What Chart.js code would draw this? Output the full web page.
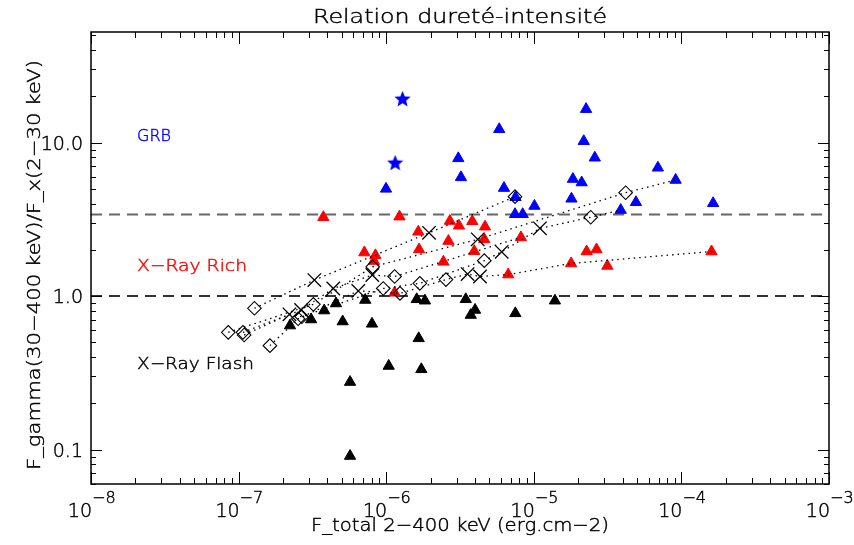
<!DOCTYPE html>
<html>
<head>
<meta charset="utf-8">
<script src="https://cdn.jsdelivr.net/npm/chart.js@4.4.1/dist/chart.umd.min.js"></script>
<style>
  html, body { margin: 0; padding: 0; background: #fff; }
  canvas { display: block; }
</style>
</head>
<body>
<canvas id="chart" width="854" height="545"></canvas>
<script>
// GRB (blue triangles)
const grbX = [2.26e-5, 5.83e-6, 2.18e-5, 2.59e-5, 3.08e-6, 3.21e-6, 6.93e-5, 9.14e-5, 1.84e-5, 2.11e-5,
              6.28e-6, 7.52e-6, 1.01e-5, 1.80e-5, 4.92e-5, 3.88e-5, 1.64e-4, 7.46e-6, 8.41e-6, 9.97e-7];
const grbY = [16.5, 12.2, 10.2, 7.96, 7.89, 5.93, 6.85, 5.70, 5.78, 5.49,
              5.05, 4.40, 3.86, 4.30, 4.08, 3.63, 4.02, 3.41, 3.41, 4.99];
// GRB (blue stars)
const starX = [1.29e-6, 1.15e-6];
const starY = [19.1, 7.32];
// X-Ray Rich (red triangles)
const xrrX = [3.75e-7, 1.23e-6, 1.65e-6, 1.67e-6, 7.11e-7, 8.45e-7, 8.26e-7, 2.70e-6, 3.11e-6, 3.83e-6, 4.67e-6, 2.64e-6,
              4.62e-6, 3.95e-6, 8.18e-6, 2.28e-5, 2.66e-5, 1.60e-4, 2.44e-6, 6.71e-6, 1.79e-5, 3.15e-5, 1.14e-6];
const xrrY = [3.26, 3.29, 2.62, 2.01, 1.92, 1.84, 1.69, 3.08, 2.87, 3.07, 2.83, 2.28,
              2.34, 1.96, 2.41, 1.95, 2.01, 1.95, 1.67, 1.38, 1.63, 1.57, 1.05];
// X-Ray Flash (black triangles)
const xrfX = [7.21e-7, 4.57e-7, 3.80e-7, 3.10e-7, 2.23e-7, 5.07e-7, 8.01e-7, 1.66e-6, 1.04e-6, 1.73e-6,
              5.69e-7, 5.69e-7, 1.61e-6, 1.83e-6, 3.46e-6, 4.00e-6, 3.74e-6, 7.50e-6, 1.39e-5];
const xrfY = [0.942, 0.894, 0.804, 0.703, 0.642, 0.682, 0.659, 0.530, 0.350, 0.333,
              0.275, 0.0907, 0.952, 0.932, 0.952, 0.811, 0.752, 0.771, 0.932];

// time-resolved tracks: [flux, ratio, marker] ('d' diamond, 'x' cross, '' = total point)
const tracks = [
  [[1.28e-7, 0.832, 'd'], [3.26e-7, 1.27, 'x'], [1.95e-6, 2.58, 'x'], [7.46e-6, 4.44, 'd']],
  [[8.51e-8, 0.580, 'd'], [3.21e-7, 0.883, 'd'], [8.10e-7, 1.55, 'd'], [4.17e-6, 2.34, 'x'], [4.19e-5, 4.71, 'd'], [9.14e-5, 5.70, '']],
  [[1.09e-7, 0.557, 'd'], [2.21e-7, 0.760, 'x'], [2.68e-7, 0.733, 'd'], [9.55e-7, 1.12, 'd'], [1.69e-6, 1.21, 'd'],
   [4.62e-6, 1.70, 'd'], [6.06e-6, 1.94, 'x'], [1.10e-5, 2.76, 'x'], [2.43e-5, 3.26, 'd'], [3.88e-5, 3.63, '']],
  [[1.63e-7, 0.475, 'd'], [2.53e-7, 0.711, 'd'], [6.47e-7, 1.08, 'x'], [1.24e-6, 1.04, 'd'], [2.54e-6, 1.28, 'd'],
   [3.56e-6, 1.39, 'x'], [4.32e-6, 1.34, 'x'], [6.71e-6, 1.38, ''], [1.79e-5, 1.63, ''], [1.60e-4, 1.95, '']],
  [[1.07e-7, 0.580, 'd'], [2.65e-7, 0.811, 'x'], [4.38e-7, 1.12, 'x'], [8.05e-7, 1.37, 'x'], [1.14e-6, 1.34, 'd'], [8.18e-6, 2.41, '']]
];

const limits = [1.0, 3.4];
const xExponents = [-8, -7, -6, -5, -4, -3];
const yTicks = [0.1, 1, 10];
const yTickLabels = ['0.1', '1.0', '10.0'];
const classNames = ['GRB', 'X-Ray Rich', 'X-Ray Flash'];
const classLevels = [11.2, 1.59, 0.366];

const title = 'Relation dureté-intensité';
const xTitle = 'F_total 2-400 keV (erg.cm-2)';
const yTitle = 'F_gamma(30-400 keV)/F_x(2-30 keV)';

const FONT = '"DejaVu Sans", sans-serif';

function pts(xs, ys) {
  return xs.map((x, i) => ({ x: x, y: ys[i] }));
}

function makeStar(r, color) {
  const c = document.createElement('canvas');
  const s = Math.ceil(r * 2 + 2);
  c.width = c.height = s;
  const g = c.getContext('2d');
  g.fillStyle = color;
  g.beginPath();
  for (let i = 0; i < 10; i++) {
    const a = -Math.PI / 2 + i * Math.PI / 5;
    const rr = i % 2 ? r * 0.45 : r;
    g.lineTo(s / 2 + rr * Math.cos(a), s / 2 + rr * Math.sin(a));
  }
  g.closePath();
  g.fill();
  return c;
}

// draw text, optionally stretched to a given width
function text(ctx, s, x, y, size, width, align, color, rot) {
  ctx.save();
  ctx.font = '200 ' + size + 'px ' + FONT;
  ctx.fillStyle = color || '#000';
  ctx.strokeStyle = color || '#000';
  ctx.lineWidth = 0.45;
  ctx.textBaseline = 'alphabetic';
  ctx.textAlign = align || 'left';
  const w = ctx.measureText(s).width;
  ctx.translate(x, y);
  if (rot) ctx.rotate(rot);
  if (width) ctx.scale(width / w, 1);
  ctx.fillText(s, 0, 0);
  ctx.strokeText(s, 0, 0);
  ctx.restore();
}

const decorations = {
  id: 'decorations',
  afterDraw(chart) {
    const ctx = chart.ctx;
    const xs = chart.scales.x, ys = chart.scales.y;
    const { left, right, top, bottom } = chart.chartArea;

    ctx.save();
    ctx.strokeStyle = '#000';
    ctx.lineWidth = 1;
    ctx.beginPath();
    // x ticks, bottom and top
    for (let e = -8; e <= -3; e++) {
      for (let m = 1; m <= 9; m++) {
        const v = m * Math.pow(10, e);
        if (v > 1.0001e-3) break;
        const px = Math.round(xs.getPixelForValue(v)) + 0.5;
        const len = m === 1 ? 12 : 6;
        ctx.moveTo(px, bottom); ctx.lineTo(px, bottom - len);
        ctx.moveTo(px, top); ctx.lineTo(px, top + len);
      }
    }
    // y ticks, left and right
    for (let e = -2; e <= 1; e++) {
      for (let m = 1; m <= 9; m++) {
        const v = m * Math.pow(10, e);
        if (v < ys.min || v > ys.max) continue;
        const py = Math.round(ys.getPixelForValue(v)) + 0.5;
        const len = m === 1 ? 11 : 5;
        ctx.moveTo(left, py); ctx.lineTo(left + len, py);
        ctx.moveTo(right, py); ctx.lineTo(right - len, py);
      }
    }
    ctx.stroke();
    ctx.lineWidth = 1.5;
    ctx.strokeRect(left, top, right - left, bottom - top);
    ctx.restore();

    // tick labels
    xExponents.forEach(e => {
      const px = xs.getPixelForValue(Math.pow(10, e));
      text(ctx, '10', px + 1, 517, 19, 0, 'right');
      text(ctx, String(e).replace('-', '\u2212'), px + 1, 503, 16, 0, 'left');
    });
    yTicks.forEach((v, i) => {
      const py = ys.getPixelForValue(v);
      text(ctx, yTickLabels[i], 83, py + 7, 19, 0, 'right');
    });

    // titles
    text(ctx, title, (left + right) / 2, 23, 20, 294, 'center');
    text(ctx, xTitle.replace(/-/g, '\u2212'), (left + right) / 2, 531, 18, 298, 'center');
    text(ctx, yTitle.replace(/-/g, '\u2212'), 40, 265, 18, 410, 'center', '#000', -Math.PI / 2);

    // class labels
    const colors = ['#0000ff', '#ff0000', '#000000'];
    const widths = [34, 110, 117];
    classNames.forEach((n, i) => {
      const py = ys.getPixelForValue(classLevels[i]);
      text(ctx, n.replace('-', '\u2212'), 137, py + 6, 16, widths[i], 'left', colors[i]);
    });
  }
};

const markers = [];
tracks.forEach(t => t.forEach(p => { if (p[2]) markers.push(p); }));
const diamonds = markers.filter(p => p[2] === 'd').map(p => ({ x: p[0], y: p[1] }));
const crosses = markers.filter(p => p[2] === 'x').map(p => ({ x: p[0], y: p[1] }));

const datasets = [];
datasets.push({ data: diamonds, pointStyle: 'rectRot', pointRadius: 6.8, backgroundColor: 'rgba(0,0,0,0)', borderColor: '#000', borderWidth: 1.1, order: 1 });
datasets.push({ data: crosses, pointStyle: 'crossRot', pointRadius: 9.5, borderColor: '#000', borderWidth: 1.3, order: 1 });
tracks.forEach(t => {
  datasets.push({ data: t.map(p => ({ x: p[0], y: p[1] })), showLine: true, borderColor: '#000', borderWidth: 1.3,
    borderDash: [1.5, 4], pointRadius: 0, order: 3 });
});
const triStyle = { pointStyle: 'triangle', pointRadius: 6.5, borderWidth: 1, order: 5 };
datasets.push(Object.assign({ data: pts(grbX, grbY), backgroundColor: '#0000ff', borderColor: '#0000ff' }, triStyle));
datasets.push(Object.assign({ data: pts(xrrX, xrrY), backgroundColor: '#ff0000', borderColor: '#ff0000' }, triStyle));
datasets.push(Object.assign({ data: pts(xrfX, xrfY), backgroundColor: '#000000', borderColor: '#000000' }, triStyle));
datasets.push({ data: pts(starX, starY), pointStyle: makeStar(8.5, '#0000ff'), pointRadius: 8.5, order: 5 });
const limitColors = ['#333', '#666'];
limits.forEach((v, i) => {
  datasets.push({ data: [{ x: 1e-8, y: v }, { x: 1e-3, y: v }], showLine: true, borderColor: limitColors[i],
    borderWidth: 2, borderDash: [11, 7], pointRadius: 0, order: 10 });
});

new Chart(document.getElementById('chart'), {
  type: 'scatter',
  data: { datasets: datasets },
  options: {
    responsive: false,
    devicePixelRatio: 1,
    animation: false,
    layout: { padding: { left: 91, right: 25, top: 32, bottom: 61 } },
    plugins: { legend: { display: false }, tooltip: { enabled: false } },
    scales: {
      x: { type: 'logarithmic', min: 1e-8, max: 1e-3, display: false },
      y: { type: 'logarithmic', min: 0.0596, max: 52.5, display: false }
    }
  },
  plugins: [decorations]
});
</script>
</body>
</html>
